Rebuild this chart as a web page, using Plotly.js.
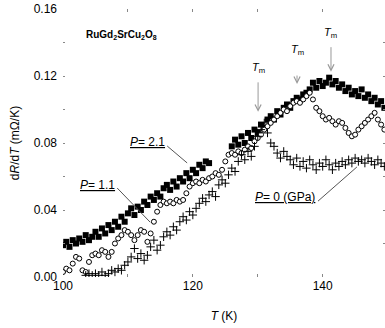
<!DOCTYPE html>
<html>
<head>
<meta charset="utf-8">
<script src="https://cdn.plot.ly/plotly-3.0.1.min.js"></script>
<style>html,body{margin:0;padding:0;background:#fff;}#chart{width:385px;height:328px;}</style>
</head>
<body>
<div id="chart"></div>
<script>
// P = 2.1 GPa (filled squares)
var T21 = [100,100.5,101,101.5,102,102.5,103,103.5,104,104.5,105,105.5,106,106.5,107,107.5,108,108.5,109,109.5,110,110.5,111,111.5,112,112.5,113,113.5,114,114.5,115,115.5,116,116.5,117,117.5,118,118.5,119,119.5,120,120.5,121,121.5,122,122.5,
  126,126.5,127,127.5,128,128.5,129,129.5,130,130.5,131,131.5,132,132.5,133,133.5,134,134.5,135,135.5,136,136.5,137,137.5,138,138.5,139,139.5,140,140.5,141,141.5,142,142.5,143,143.5,144,144.5,145,145.5,146,146.5,147,147.5,148,148.5,149,149.5];
var V21 = [0.019,0.021,0.018,0.022,0.020,0.023,0.021,0.025,0.022,0.024,0.027,0.024,0.029,0.026,0.031,0.028,0.033,0.030,0.036,0.033,0.038,0.041,0.037,0.042,0.040,0.045,0.043,0.048,0.046,0.050,0.048,0.053,0.055,0.052,0.057,0.054,0.059,0.057,0.062,0.059,0.064,0.062,0.067,0.065,0.069,0.068,
  0.078,0.082,0.079,0.084,0.080,0.086,0.083,0.088,0.086,0.091,0.089,0.094,0.096,0.094,0.099,0.097,0.101,0.103,0.101,0.105,0.107,0.106,0.109,0.110,0.112,0.116,0.113,0.117,0.114,0.116,0.119,0.115,0.117,0.113,0.115,0.111,0.113,0.109,0.111,0.108,0.112,0.107,0.109,0.105,0.107,0.103,0.105,0.101];

// P = 1.1 GPa (open circles)
var T11 = [100,100.5,101,101.5,102,102.5,103,103.5,104,104.5,105,105.5,106,106.5,107,107.5,108,108.5,109,109.5,110,110.5,111,111.5,112,112.5,113,113.5,114,114.5,115,115.5,116,116.5,117,117.5,118,118.5,119,119.5,120,120.5,121,121.5,122,122.5,123,123.5,124,124.5,125,125.5,126,126.5,127,127.5,128,128.5,129,129.5,130,130.5,131,131.5,132,132.5,133,133.5,134,134.5,135,135.5,136,136.5,137,137.5,138,138.5,139,139.5,140,140.5,141,141.5,142,142.5,143,143.5,144,144.5,145,145.5,146,146.5,147,147.5,148,148.5,149,149.5];
var V11 = [0.003,0.005,0.004,0.008,0.012,0.011,0.004,0.003,0.009,0.013,
  0.014,0.013,0.016,0.015,0.012,0.015,0.020,0.023,0.025,0.028,
  0.027,0.025,0.022,0.025,0.028,0.027,0.021,0.026,0.033,0.039,
  0.043,0.045,0.044,0.045,0.044,0.046,0.045,0.046,0.050,0.054,
  0.056,0.057,0.056,0.058,0.057,0.059,0.060,0.062,0.061,0.064,
  0.069,0.073,0.074,0.073,0.075,0.074,0.076,0.078,0.077,0.081,
  0.083,0.085,0.088,0.090,0.092,0.094,0.096,0.098,0.100,0.099,
  0.102,0.104,0.105,0.104,0.106,0.108,0.110,0.106,0.101,0.099,
  0.096,0.094,0.095,0.093,0.091,0.093,0.092,0.089,0.086,0.084,
  0.085,0.088,0.090,0.092,0.094,0.096,0.098,0.094,0.091,0.088];

// P = 0 GPa (crosses)
var T0 = [103.5,104,104.5,105,105.5,106,106.5,107,107.5,108,108.5,109,109.5,110,110.5,111,111.5,112,112.5,113,113.5,114,114.5,115,115.5,116,116.5,117,117.5,118,118.5,119,119.5,120,120.5,121,121.5,122,122.5,123,123.5,124,124.5,125,125.5,126,126.5,127,127.5,128,128.5,129,129.5,130,130.5,131,131.5,132,132.5,133,133.5,134,134.5,135,135.5,136,136.5,137,137.5,138,138.5,139,139.5,140,140.5,141,141.5,142,142.5,143,143.5,144,144.5,145,145.5,146,146.5,147,147.5,148,148.5,149,149.5];
var V0 = [0.001,0.002,0.001,0.002,0.001,0.003,0.001,0.002,0.004,0.003,
  0.005,0.004,0.007,0.009,0.012,0.017,0.011,0.014,0.010,0.013,
  0.018,0.022,0.016,0.019,0.024,0.027,0.025,0.030,0.028,0.033,
  0.036,0.034,0.039,0.037,0.041,0.044,0.047,0.045,0.049,0.051,
  0.048,0.055,0.058,0.056,0.061,0.065,0.063,0.069,0.073,0.070,
  0.075,0.072,0.078,0.084,0.088,0.092,0.086,0.080,0.078,0.074,
  0.071,0.075,0.072,0.070,0.067,0.071,0.066,0.069,0.065,0.070,
  0.067,0.064,0.068,0.066,0.070,0.067,0.064,0.068,0.066,0.069,
  0.067,0.070,0.068,0.071,0.069,0.070,0.068,0.071,0.069,0.067,
  0.070,0.068,0.066];

var xTickVals = [100, 120, 140];
var yTickVals = [0.00, 0.04, 0.08, 0.12, 0.16];

var FONT = 'Liberation Sans, Arial, sans-serif';

var traces = [
  {x: T21, y: V21, type: 'scatter', mode: 'markers', name: 'P=2.1',
   marker: {symbol: 'square', size: 6, color: '#000'}},
  {x: T11, y: V11, type: 'scatter', mode: 'markers', name: 'P=1.1',
   marker: {symbol: 'circle', size: 5, color: '#fff', line: {color: '#000', width: 1}}},
  {x: T0, y: V0, type: 'scatter', mode: 'markers', name: 'P=0',
   marker: {symbol: 'cross-thin-open', size: 6, color: '#000', line: {color: '#000', width: 1}}}
];

var arrowGray = '#999';
var layout = {
  width: 385, height: 328,
  margin: {l: 63, r: 0, t: 9, b: 51},
  paper_bgcolor: '#fff', plot_bgcolor: '#fff',
  showlegend: false,
  font: {family: FONT, size: 12, color: '#000'},
  xaxis: {
    range: [100, 149.6], tickvals: xTickVals, ticktext: xTickVals.map(String),
    ticks: 'inside', ticklen: 3, tickcolor: '#888', tickwidth: 1,
    minor: {dtick: 10, tick0: 100, ticks: 'inside', ticklen: 3, tickcolor: '#888'},
    showgrid: false, zeroline: false, showline: false, mirror: 'ticks',
    tickfont: {size: 12},
    title: {text: '<i>T</i> (K)', font: {size: 12}, standoff: 19}
  },
  yaxis: {
    range: [0, 0.16], tickvals: yTickVals, tickformat: '.2f',
    ticks: 'inside', ticklen: 2, tickcolor: '#888', tickwidth: 1,
    minor: {dtick: 0.02, tick0: 0, ticks: 'inside', ticklen: 2, tickcolor: '#888'},
    showgrid: false, zeroline: false, showline: false, mirror: 'ticks',
    tickfont: {size: 12}, ticklabelstandoff: 5,
    title: {text: 'd<i>R</i>/d<i>T</i> (mΩ/K)', font: {size: 12}, standoff: 11}
  },
  annotations: [
    {xref: 'x', yref: 'y', x: 103.3, y: 0.1445, xanchor: 'left', yanchor: 'middle', showarrow: false,
     text: '<b>RuGd<sub>2</sub>SrCu<sub>2</sub>O<sub>8</sub></b>', font: {size: 10}},
    {xref: 'x', yref: 'y', x: 130.05, y: 0.0986, showarrow: true, ax: 0, ay: -44,
     text: '<i>T</i><sub>m</sub>', font: {size: 11},
     arrowcolor: arrowGray, arrowwidth: 1, arrowhead: 5, arrowsize: 1.2, startstandoff: 6},
    {xref: 'x', yref: 'y', x: 136.05, y: 0.1152, showarrow: true, ax: 0, ay: -34,
     text: '<i>T</i><sub>m</sub>', font: {size: 11},
     arrowcolor: arrowGray, arrowwidth: 1, arrowhead: 5, arrowsize: 1.2, startstandoff: 17},
    {xref: 'x', yref: 'y', x: 141.28, y: 0.1226, showarrow: true, ax: 0, ay: -39,
     text: '<i>T</i><sub>m</sub>', font: {size: 11},
     arrowcolor: arrowGray, arrowwidth: 1, arrowhead: 5, arrowsize: 1.2, startstandoff: 6},
    {xref: 'x', yref: 'y', x: 116.05, y: 0.0805, xanchor: 'right', yanchor: 'middle', showarrow: false,
     text: '<u><i>P</i>= 2.1</u>', font: {size: 12}},
    {xref: 'x', yref: 'y', x: 108.35, y: 0.0550, xanchor: 'right', yanchor: 'middle', showarrow: false,
     text: '<u><i>P</i>= 1.1</u>', font: {size: 12}},
    {xref: 'x', yref: 'y', x: 139.2, y: 0.0475, xanchor: 'right', yanchor: 'middle', showarrow: false,
     text: '<u><i>P</i>= 0 (GPa)</u>', font: {size: 12}}
  ],
  shapes: [
    {type: 'line', xref: 'x', yref: 'y', x0: 116.05, y0: 0.0782, x1: 119.12, y1: 0.0681, line: {color: '#555', width: 1}},
    {type: 'line', xref: 'x', yref: 'y', x0: 108.35, y0: 0.0531, x1: 113.43, y1: 0.0327, line: {color: '#555', width: 1}},
    {type: 'line', xref: 'x', yref: 'y', x0: 139.28, y0: 0.0453, x1: 145.28, y1: 0.0657, line: {color: '#555', width: 1}}
  ]
};

Plotly.newPlot('chart', traces, layout, {displayModeBar: false, staticPlot: true});
</script>
</body>
</html>
